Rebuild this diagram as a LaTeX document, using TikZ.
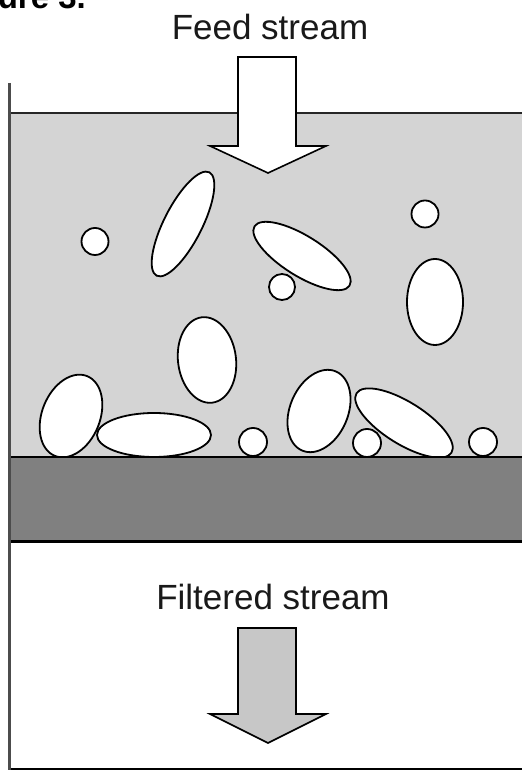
\documentclass[tikz,border=0pt]{standalone}
\usepackage{fontspec}
\setmainfont{Liberation Sans}
\begin{document}
\begin{tikzpicture}[x=1pt,y=1pt,
  particle/.style={line width=1.8pt},
  label/.style={font=\fontsize{35}{40}\selectfont, inner sep=0pt, anchor=base, text=black!90},
  figlabel/.style={font=\fontsize{33}{38}\selectfont\bfseries, inner sep=0pt, anchor=base east}]
\useasboundingbox (0,0) rectangle (522,770);
\clip (0,0) rectangle (522,770);
\fill[white] (0,0) rectangle (522,770);
% liquid
\fill[black!17] (9.5,657) rectangle (522,313);
% particles: fill then outline
\def\particles{
  (95,528.5) circle [radius=13.5]
  (425,556) circle [radius=13.5]
  (282,483) circle [radius=13]
  (253,328) circle [radius=14]
  (367,327) circle [radius=14]
  (483,328) circle [radius=14]
}
\foreach \cx/\cy/\a/\b/\r in {183/546/58/19/63, 302/514/56/20/-32, 435/468/28/43/0, 207/410/43/29/97,
  71/354/43/29/68, 154/335/57/22/0, 319/359/43/29/67, 404/347/56/21/-32}{
  \fill[white, rotate around={\r:(\cx,\cy)}] (\cx,\cy) ellipse [x radius=\a, y radius=\b];
}
\fill[white] \particles;
\foreach \cx/\cy/\a/\b/\r in {183/546/58/19/63, 302/514/56/20/-32, 435/468/28/43/0, 207/410/43/29/97,
  71/354/43/29/68, 154/335/57/22/0, 319/359/43/29/67, 404/347/56/21/-32}{
  \draw[particle, rotate around={\r:(\cx,\cy)}] (\cx,\cy) ellipse [x radius=\a, y radius=\b];
}
\draw[particle] \particles;
% filter medium
\fill[black!50] (9.5,313) rectangle (522,228);
\draw[line width=1.6pt] (9.5,313) -- (522,313);
\draw[line width=3pt] (9.5,228) -- (522,228);
% liquid surface
\draw[line width=1.5pt, black!85] (9.5,657) -- (522,657);
% bottom line
\draw[line width=2.2pt] (9.5,1) -- (522,1);
% left wall
\draw[line width=3pt, black!70] (9.5,687) -- (9.5,0);
% arrows
\draw[line width=1.6pt, fill=white, line join=miter]
  (238,713) -- (296,713) -- (296,624) -- (326,624) -- (268,597) -- (210,624) -- (238,624) -- cycle;
\draw[line width=1.6pt, fill=black!22, line join=miter]
  (238,142) -- (296,142) -- (296,56) -- (326,56) -- (268,27) -- (210,56) -- (238,56) -- cycle;
% texts
\node[label] (feed) at (270,730) {Feed stream};
\node[label] (filtered) at (273,160) {Filtered stream};
\node[figlabel] (fig) at (86,761) {Figure 3.};
\end{tikzpicture}
\end{document}
